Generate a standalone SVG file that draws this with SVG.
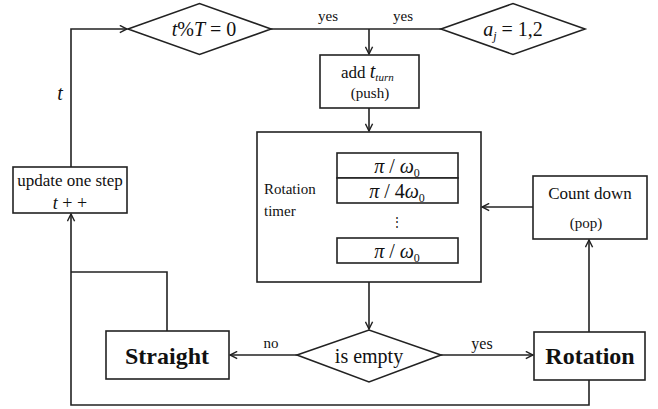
<svg xmlns="http://www.w3.org/2000/svg" width="658" height="409" viewBox="0 0 658 409">
<defs>
<style>
.s{fill:#fff;stroke:#222;stroke-width:1.6}
.c{fill:none;stroke:#222;stroke-width:1.6}
text{fill:#111}
.m{text-anchor:middle}
.i{font-style:italic}
.b{font-weight:bold;font-size:24px}
</style>
<marker id="a" viewBox="0 0 10 10" refX="9" refY="5" markerWidth="9" markerHeight="9" markerUnits="userSpaceOnUse" orient="auto">
<path d="M1,1 L9,5 L1,9" fill="none" stroke="#222" stroke-width="1.6"/>
</marker>
</defs>
<rect width="658" height="409" fill="#fff"/>
<g font-family="Liberation Serif, Tinos, DejaVu Serif, serif">
<g id="connectors">
<path class="c" d="M71,167 V29 H127" marker-end="url(#a)"/>
<path class="c" d="M271,29 H441"/>
<path class="c" d="M369,29 V54" marker-end="url(#a)"/>
<path class="c" d="M369,108 V131" marker-end="url(#a)"/>
<path class="c" d="M369,282 V329" marker-end="url(#a)"/>
<path class="c" d="M297,355 H230" marker-end="url(#a)"/>
<path class="c" d="M441,355 H533" marker-end="url(#a)"/>
<path class="c" d="M589,332 V240" marker-end="url(#a)"/>
<path class="c" d="M533,207 H482" marker-end="url(#a)"/>
<path class="c" d="M589,380 V405 H71 V214" marker-end="url(#a)"/>
<path class="c" d="M167,331 V272 H71"/>
<text x="328" y="21" class="m" font-size="15">yes</text>
<text x="403" y="21" class="m" font-size="15">yes</text>
<text x="271" y="348" class="m" font-size="15">no</text>
<text x="482" y="349" class="m" font-size="16">yes</text>
<text x="60" y="100" class="m i" font-size="20">t</text>
</g>
<g id="cond_t">
<polygon class="s" points="128,29 199.5,3.5 271,29 199.5,54.5"/>
<text x="204" y="36" class="m" font-size="20"><tspan class="i">t</tspan>%<tspan class="i">T</tspan> = 0</text>
</g>
<g id="cond_a">
<polygon class="s" points="441,29 513,3.5 585,29 513,54.5"/>
<text x="513" y="36" class="m" font-size="20"><tspan class="i">a</tspan><tspan class="i" font-size="12" dy="4">j</tspan><tspan dy="-4"> = 1,2</tspan></text>
</g>
<g id="add">
<rect class="s" x="320" y="55" width="99" height="53"/>
<text x="341" y="78" font-size="17">add <tspan class="i" font-size="20">t</tspan><tspan class="i" font-size="11" dy="3">turn</tspan></text>
<text x="370" y="98" class="m" font-size="15">(push)</text>
</g>
<g id="timer">
<rect class="s" x="257" y="132" width="224" height="150"/>
<text x="264" y="194" font-size="15">Rotation</text>
<text x="264" y="216" font-size="15">timer</text>
<rect class="s" x="337" y="153" width="121" height="25"/>
<rect class="s" x="337" y="178" width="121" height="25"/>
<rect class="s" x="337" y="238" width="121" height="25"/>
<text x="397" y="173" class="m" font-size="20"><tspan class="i">π</tspan> / <tspan class="i">ω</tspan><tspan font-size="12" dy="4">0</tspan></text>
<text x="397" y="198" class="m" font-size="20"><tspan class="i">π</tspan> / 4<tspan class="i">ω</tspan><tspan font-size="12" dy="4">0</tspan></text>
<text x="397" y="226" class="m" font-size="12">⋮</text>
<text x="397" y="258" class="m" font-size="20"><tspan class="i">π</tspan> / <tspan class="i">ω</tspan><tspan font-size="12" dy="4">0</tspan></text>
</g>
<g id="update">
<rect class="s" x="13" y="167" width="114" height="46"/>
<text x="70" y="186" class="m" font-size="17">update one step</text>
<text x="70" y="209" class="m" font-size="18"><tspan class="i">t</tspan> + +</text>
</g>
<g id="countdown">
<rect class="s" x="533" y="176" width="114" height="63"/>
<text x="590" y="199" class="m" font-size="17">Count down</text>
<text x="586" y="228" class="m" font-size="15">(pop)</text>
</g>
<g id="empty">
<polygon class="s" points="297,355 369,330 441,355 369,382"/>
<text x="369" y="363" class="m" font-size="20">is empty</text>
</g>
<g id="straight">
<rect class="s" x="106" y="331" width="123" height="48"/>
<text x="167" y="364" class="m b">Straight</text>
</g>
<g id="rotation">
<rect class="s" x="534" y="332" width="111" height="48"/>
<text x="590" y="364" class="m b">Rotation</text>
</g>
</g>
</svg>
